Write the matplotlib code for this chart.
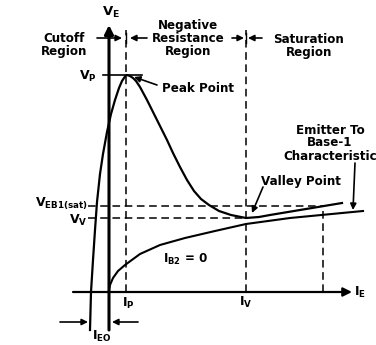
import matplotlib
matplotlib.use('Agg')
import matplotlib.pyplot as plt

# UJT emitter characteristic (arbitrary units, origin where the axes cross)
# emitter curve: cutoff -> peak -> negative resistance -> valley -> saturation
curve_ie = [-19, -18, -16, -14, -12, -9, -6, -2, 2, 6, 10, 13, 16, 18, 21, 24, 27,
            31, 38, 44, 51, 58, 64, 71, 78, 85, 92, 100, 110, 122, 137, 150, 161,
            191, 233]
curve_ve = [-38, 0, 32, 62, 90, 118, 138, 160, 178, 192, 204, 211, 215.5, 217, 216,
            214, 211, 205, 192, 180, 166, 152, 139, 125, 112, 101, 93, 87, 81, 77,
            74, 75, 77, 82, 89]

# emitter to base-1 characteristic, I_B2 = 0
base_ie = [0, 1, 4, 9, 16, 31, 51, 76, 106, 137, 181, 254]
base_ve = [2, 7, 14, 21, 27, 38, 47, 54, 61, 68, 74, 81]

I_P, V_P = 17, 217
I_V, V_V = 137, 74
V_EB1_SAT = 86
I_SAT = 214
I_EO = -19

fig = plt.figure(figsize=(3.76, 3.45), dpi=100)
ax = fig.add_axes([0, 0, 1, 1])
ax.set_xlim(-109, 267)
ax.set_ylim(-53, 292)
ax.axis('off')

TXT = dict(fontsize=8.6, fontweight='bold', ha='center', va='center',
           family='DejaVu Sans', linespacing=1.0)
ARR = dict(arrowstyle='-|>', color='k', lw=1.2, mutation_scale=9, shrinkA=0, shrinkB=0)
DASH = dict(color='k', lw=1.1, dashes=(5, 3))

# axes
ax.annotate('', xy=(0, 267), xytext=(0, -38),
            arrowprops=dict(ARR, lw=2.2, mutation_scale=13))
ax.annotate('', xy=(243, 0), xytext=(-36, 0),
            arrowprops=dict(ARR, lw=1.6, mutation_scale=13))

# curves
ax.plot(curve_ie, curve_ve, color='k', lw=1.6, solid_joinstyle='round')
ax.plot(base_ie, base_ve, color='k', lw=1.5, solid_joinstyle='round')

# dashed guides
ax.plot([I_P, I_P], [0, 262], **DASH)
ax.plot([I_V, I_V], [0, 262], **DASH)
ax.plot([-21, I_SAT], [V_EB1_SAT, V_EB1_SAT], **DASH)
ax.plot([-21, I_V], [V_V, V_V], **DASH)
ax.plot([I_SAT, I_SAT], [0, V_EB1_SAT], **DASH)
ax.plot([-6, 33], [V_P, V_P], color='k', lw=1.2)

# region boundary arrows
ax.annotate('', xy=(I_P - 4, 254), xytext=(-12, 254), arrowprops=ARR)
ax.annotate('', xy=(I_P + 4, 254), xytext=(38, 254), arrowprops=ARR)
ax.annotate('', xy=(I_V - 2, 254), xytext=(123, 254), arrowprops=ARR)
ax.annotate('', xy=(I_V + 2, 254), xytext=(153, 254), arrowprops=ARR)
ax.plot([I_P, I_P], [249, 259], color='k', lw=1)
ax.plot([I_V, I_V], [249, 259], color='k', lw=1)

# I_EO arrows
ax.annotate('', xy=(I_EO - 2, -30), xytext=(-49, -30), arrowprops=ARR)
ax.annotate('', xy=(3, -30), xytext=(29, -30), arrowprops=ARR)

# callouts
ax.annotate('', xy=(I_P + 8, V_P - 2), xytext=(48, 207), arrowprops=ARR)
ax.annotate('', xy=(I_V + 6, V_V + 5), xytext=(154, 105), arrowprops=ARR)
ax.annotate('', xy=(244, 82), xytext=(246, 129), arrowprops=ARR)

# labels
ax.text(2, 280, r'$\mathbf{V_E}$', **dict(TXT, fontsize=9.5))
ax.text(-45, 247, 'Cutoff\nRegion', **TXT)
ax.text(79, 254, 'Negative\nResistance\nRegion', **TXT)
ax.text(200, 246, 'Saturation\nRegion', **TXT)
ax.text(-21, 216, r'$\mathbf{V_P}$', **dict(TXT, fontsize=9))
ax.text(89, 204, 'Peak Point', **TXT)
ax.text(192, 111, 'Valley Point', **TXT)
ax.text(221, 149, 'Emitter To\nBase-1\nCharacteristic', **TXT)
ax.text(-21, V_EB1_SAT + 2, r'$\mathbf{V_{EB1(sat)}}$', **dict(TXT, fontsize=9, ha='right'))
ax.text(-21, V_V - 2, r'$\mathbf{V_V}$', **dict(TXT, fontsize=9, ha='right'))
ax.text(76, 33, r'$\mathbf{I_{B2}}$ = 0', **TXT)
ax.text(I_P + 2, -11, r'$\mathbf{I_P}$', **dict(TXT, fontsize=9))
ax.text(I_V, -10, r'$\mathbf{I_V}$', **dict(TXT, fontsize=9))
ax.text(245, 0, r'$\mathbf{I_E}$', **dict(TXT, fontsize=9, ha='left'))
ax.text(-7, -44, r'$\mathbf{I_{EO}}$', **dict(TXT, fontsize=9))

fig.savefig('out.png', dpi=100)
